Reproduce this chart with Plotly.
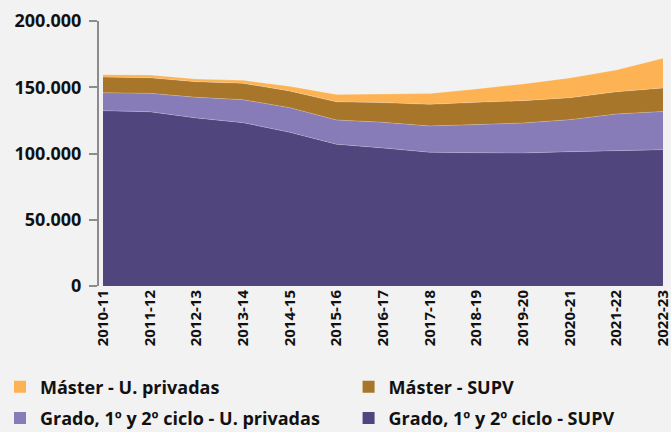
import plotly.graph_objects as go

years = ["2010-11", "2011-12", "2012-13", "2013-14", "2014-15", "2015-16", "2016-17",
         "2017-18", "2018-19", "2019-20", "2020-21", "2021-22", "2022-23"]

grado_supv = [132300, 131500, 126800, 123300, 116000, 107000, 104200, 100900, 100600, 100400, 101400, 102400, 102900]
grado_priv = [13600, 13900, 15600, 17300, 18600, 18300, 19300, 19900, 21200, 22600, 24100, 27400, 28800]
master_supv = [11800, 11800, 11800, 12400, 12600, 13700, 14900, 16300, 16800, 16900, 16600, 16800, 17700]
master_priv = [1800, 2000, 2000, 2200, 3500, 5600, 6500, 8100, 10100, 12600, 14900, 16400, 22400]

names = ["Grado, 1º y 2º ciclo - SUPV", "Grado, 1º y 2º ciclo - U. privadas",
         "Máster - SUPV", "Máster - U. privadas"]
colors = ["#51457D", "#877BB8", "#A8762A", "#FDB253"]
series = [grado_supv, grado_priv, master_supv, master_priv]

x_idx = list(range(len(years)))
FONT = "Open Sans"

fig = go.Figure()
for name, col, vals in zip(names, colors, series):
    fig.add_trace(go.Scatter(
        x=x_idx, y=vals, name=name, stackgroup="one", mode="lines",
        line=dict(width=0.6, color="rgba(255,255,255,0.35)"),
        fillcolor=col, showlegend=False, hoverinfo="x+y+name"))

# legend entries (square swatches)
legend_map = {
    "Máster - U. privadas": "legend",
    "Grado, 1º y 2º ciclo - U. privadas": "legend",
    "Máster - SUPV": "legend2",
    "Grado, 1º y 2º ciclo - SUPV": "legend2",
}
order = [3, 1, 2, 0]
for i in order:
    fig.add_trace(go.Scatter(
        x=[None], y=[None], mode="markers", name=names[i],
        marker=dict(symbol="square", size=12, color=colors[i]),
        legend=legend_map[names[i]], legendgroup=names[i], showlegend=True,
        hoverinfo="skip"))

legend_common = dict(
    orientation="v", xref="container", yref="container", xanchor="left", yanchor="top",
    font=dict(family=FONT, size=18, color="#111111", weight="bold"),
    bgcolor="rgba(0,0,0,0)", itemwidth=30, tracegroupgap=5, traceorder="grouped",
    itemclick=False, itemdoubleclick=False)

fig.update_layout(
    width=671, height=432,
    paper_bgcolor="#F2F2F2", plot_bgcolor="#F2F2F2",
    separators=",.",
    margin=dict(l=99, r=8, t=21, b=146, autoexpand=False),
    font=dict(family=FONT, color="#111111"),
    legend=dict(x=0.0, y=0.147, **legend_common),
    legend2=dict(x=0.5195, y=0.147, **legend_common),
    xaxis=dict(
        range=[-0.086, 12.0005], tickmode="array", tickvals=x_idx, ticktext=years,
        tickangle=-90, showgrid=False, zeroline=False, showline=False, ticks="",
        ticklabeloverflow="allow",
        tickfont=dict(family=FONT, size=15, color="#111111", weight="bold")),
    yaxis=dict(
        range=[0, 200000], tickvals=[0, 50000, 100000, 150000, 200000],
        tickformat=",d", showgrid=False, zeroline=False,
        showline=True, linecolor="#8C8C8C", linewidth=2,
        ticks="outside", ticklen=8, tickcolor="#8C8C8C", tickwidth=2,
        ticklabelstandoff=4,
        tickfont=dict(family=FONT, size=18, color="#111111", weight="bold")),
)

fig.write_html(
    "out.html",
    config={"displayModeBar": False},
    post_script="document.body.style.margin='0';document.body.style.background='#F2F2F2';",
)
